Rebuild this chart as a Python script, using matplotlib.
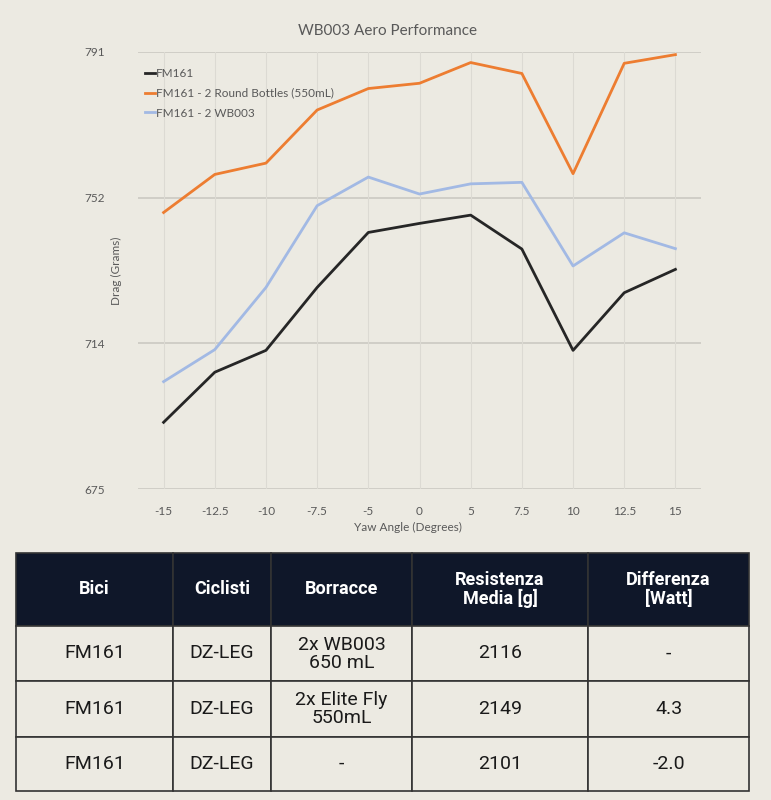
import numpy as np
import matplotlib.pyplot as plt

yaw = [-15, -12.5, -10, -7.5, -5, 0, 5, 7.5, 10, 12.5, 15]
yaw_labels = ["-15", "-12.5", "-10", "-7.5", "-5", "0", "5", "7.5", "10", "12.5", "15"]
fm161 = [692.7, 706.0, 711.8, 728.5, 743.1, 745.5, 747.7, 738.7, 711.8, 727.1, 733.3]
round_bottles = [748.4, 758.5, 761.5, 775.6, 781.3, 782.7, 788.2, 785.3, 758.7, 788.0, 790.3]
wb003 = [703.5, 712.0, 728.5, 750.2, 757.8, 753.3, 756.0, 756.4, 734.2, 743.0, 738.8]

y_ticks = [675, 713.67, 752.33, 791]
y_tick_labels = ["675", "714", "752", "791"]

col_labels = ["Bici", "Ciclisti", "Borracce", "Resistenza\nMedia [g]", "Differenza\n[Watt]"]
rows = [
    ["FM161", "DZ-LEG", "2x WB003\n650 mL", "2116", "-"],
    ["FM161", "DZ-LEG", "2x Elite Fly\n550mL", "2149", "4.3"],
    ["FM161", "DZ-LEG", "-", "2101", "-2.0"],
]

bg = "#eceae2"
txt = "#595959"

fig = plt.figure(figsize=(7.71, 8), dpi=100, facecolor=bg)
ax = fig.add_axes([138 / 771, 1 - 489 / 800, (701 - 138) / 771, (489 - 52) / 800])
ax.set_facecolor(bg)

x = np.arange(len(yaw))
ax.plot(x, fm161, color="#262626", lw=2.0, label="FM161")
ax.plot(x, round_bottles, color="#ed7d31", lw=2.0, label="FM161 - 2 Round Bottles (550mL)")
ax.plot(x, wb003, color="#a2b9e4", lw=2.0, label="FM161 - 2 WB003")

ax.set_xlim(-0.5, len(yaw) - 0.5)
ax.set_ylim(675, 791)
ax.set_xticks(x)
ax.set_xticklabels(yaw_labels)
ax.set_yticks(y_ticks)
ax.set_yticklabels(y_tick_labels)
ax.tick_params(length=0, colors=txt, labelsize=8.5, pad=12)
ax.tick_params(axis="y", pad=24)
for s in ax.spines.values():
    s.set_visible(False)
for v in y_ticks:
    ax.axhline(v, color="#cbc9c2", lw=1.2, zorder=0)
for xi in x:
    ax.axvline(xi, color="#dcdad3", lw=0.8, zorder=0)

fig.text(0.503, 1 - 31 / 800, "WB003 Aero Performance", color=txt, fontsize=11,
         family="Lato", ha="center", va="center")
ax.set_xlabel("Yaw Angle (Degrees)", color=txt, fontsize=8.5, family="Lato")
ax.xaxis.set_label_coords(0.48, -0.075)
ax.set_ylabel("Drag (Grams)", color=txt, fontsize=8.5, family="Lato")
ax.yaxis.set_label_coords(-0.028, 0.5)
for lab in ax.get_xticklabels() + ax.get_yticklabels():
    lab.set_family("Lato")

leg = ax.legend(loc="upper left", frameon=False, handlelength=0.8,
                handletextpad=0.1, labelspacing=0.75, borderaxespad=0.2,
                bbox_to_anchor=(0.0, 0.98), prop={"family": "Lato", "size": 8.5})
for t in leg.get_texts():
    t.set_color(txt)

# table
tax = fig.add_axes([16 / 771, 1 - 791 / 800, (749 - 16) / 771, (791 - 553) / 800])
tax.axis("off")
col_w = np.array([157, 98, 141, 176, 161]) / 733
row_h = np.array([73, 55, 56, 54]) / 238
tbl = tax.table(cellText=rows, colLabels=col_labels, cellLoc="center",
                bbox=[0, 0, 1, 1])
tbl.auto_set_font_size(False)
for (r, c), cell in tbl.get_celld().items():
    cell.set_width(col_w[c])
    cell.set_height(row_h[r])
    cell.set_edgecolor("#333333")
    cell.set_linewidth(1.2)
    if r == 0:
        cell.set_facecolor("#0f1729")
        cell.get_text().set_color("white")
        cell.get_text().set_fontweight("bold")
        cell.get_text().set_fontsize(13)
    else:
        cell.set_facecolor(bg)
        cell.get_text().set_color("#1a1a1a")
        cell.get_text().set_fontsize(14)
    cell.get_text().set_family("Roboto")
    cell.get_text().set_linespacing(1.0)

fig.savefig("out.png", dpi=100, facecolor=bg)
